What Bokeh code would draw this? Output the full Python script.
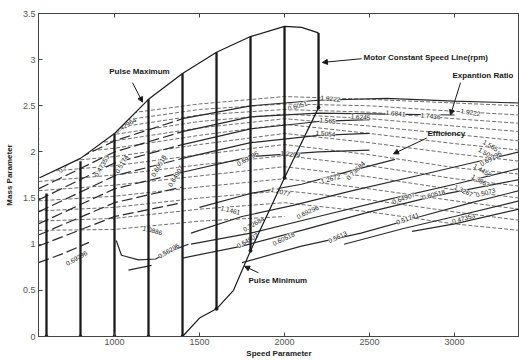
from bokeh.plotting import figure
from bokeh.models import (Range1d, LinearAxis, CustomJSTickFormatter, Arrow, NormalHead,
                          Label, FixedTicker)
from bokeh.embed import file_html
from bokeh.resources import INLINE

# ---------------- data ----------------
# motor constant speed lines
speeds = [600, 800, 1000, 1200, 1400, 1600, 1800, 2000, 2200]
speed_top = [1.55, 1.9, 2.2, 2.57, 2.85, 3.08, 3.25, 3.36, 3.29]
speed_bottom = [0, 0, 0, 0, 0, 0.3, 0.93, 1.72, 2.48]

# pulse envelope
pmax_x = [560, 800, 1000, 1200, 1400, 1600, 1800, 2000, 2100, 2200]
pmax_y = [1.72, 1.93, 2.2, 2.57, 2.85, 3.08, 3.25, 3.36, 3.35, 3.29]
pmin_x = [1400, 1500, 1600, 1700, 1800, 2000, 2200]
pmin_y = [0.0, 0.2, 0.3, 0.5, 0.93, 1.72, 2.48]

# expansion ratio lines (dashed)
er_x = [553, 1000, 1500, 2000, 2500, 3000, 3380]
er_1_9222 = [2.25, 2.4, 2.52, 2.6, 2.57, 2.53, 2.5]
er_1_8222 = [2.2, 2.33, 2.46, 2.52, 2.5, 2.44, 2.4]
er_1_7436 = [2.14, 2.26, 2.4, 2.46, 2.43, 2.36, 2.31]
er_1_6841 = [2.08, 2.19, 2.33, 2.41, 2.36, 2.28, 2.22]
er_1_6245 = [2.02, 2.12, 2.26, 2.36, 2.28, 2.19, 2.12]
er_1_565 = [1.95, 2.04, 2.18, 2.3, 2.2, 2.09, 2.02]
er_1_5054 = [1.87, 1.95, 2.08, 2.2, 2.1, 1.98, 1.9]
er_1_4458 = [1.78, 1.85, 1.97, 2.08, 1.97, 1.83, 1.76]
er_1_3863 = [1.68, 1.75, 1.86, 1.96, 1.85, 1.71, 1.63]
er_1_3267 = [1.58, 1.64, 1.74, 1.84, 1.73, 1.59, 1.5]
er_1_2672 = [1.47, 1.52, 1.62, 1.71, 1.6, 1.47, 1.38]
er_1_2077 = [1.36, 1.4, 1.5, 1.58, 1.48, 1.35, 1.26]
er_1_1461 = [1.25, 1.28, 1.38, 1.45, 1.35, 1.22, 1.15]
er_1_0886_x = [553, 1000, 1500, 2000]
er_1_0886 = [1.15, 1.16, 1.25, 1.3]

# efficiency lines, left part (broken strokes)
effL_x = [553, 1000, 1400]
effL_1 = [0.98, 1.3, 1.45]
effL_2 = [1.1, 1.45, 1.62]
effL_3 = [1.22, 1.6, 1.78]
effL_4 = [1.35, 1.74, 1.93]
effL_5 = [1.48, 1.88, 2.08]
effL_6 = [1.6, 2.0, 2.22]
effL_7 = [1.72, 2.12, 2.36]
effL_low_x = [553, 700, 850]
effL_low_y = [0.8, 0.9, 1.02]
eff_u_x = [1010, 1041, 1141, 1241, 1335, 1435]
eff_u_y = [1.04, 0.88, 0.83, 0.84, 0.93, 1.0]
eff_s_x = [1082, 1218]
eff_s_y = [0.72, 0.77]

# efficiency lines, middle/right part
effM1_x = [1400, 1800, 2200, 2600, 3000, 3380]
effM1_y = [2.36, 2.5, 2.56, 2.58, 2.55, 2.53]
effM2_x = [1400, 1800, 2200, 2600, 3000]
effM2_y = [2.22, 2.38, 2.42, 2.41, 2.4]
effM_x = [1400, 1800, 2200, 2500]
effM_3 = [2.08, 2.25, 2.33, 2.35]
effM_4 = [1.93, 2.1, 2.18, 2.2]
effM_5 = [1.78, 1.95, 2.0, 2.02]

e47_x = [2750, 3000, 3380]
e47_y = [1.14, 1.22, 1.38]
e51_x = [2350, 2700, 3000, 3380]
e51_y = [1.0, 1.17, 1.3, 1.47]
e56_x = [1750, 2100, 2450, 2800, 3100, 3380]
e56_y = [0.8, 0.98, 1.12, 1.3, 1.45, 1.58]
e60_x = [1400, 1750, 2100, 2500, 2900, 3380]
e60_y = [0.85, 0.98, 1.15, 1.35, 1.53, 1.7]
e64_x = [1450, 1800, 2200, 2600, 3000, 3380]
e64_y = [1.0, 1.12, 1.3, 1.48, 1.65, 1.82]
e69_x = [1450, 1750, 2050, 2400, 2800, 3100, 3380]
e69_y = [1.12, 1.3, 1.42, 1.58, 1.75, 1.88, 2.0]
e73_x = [1500, 1800, 2100, 2400, 2650]
e73_y = [1.4, 1.55, 1.65, 1.8, 1.92]

# contour labels (text, x, y, angle in degrees)
lab_text = ["1.9222", "1.565", "1.6245", "1.6841", "1.7436", "1.9222", "1.5054", "1.2209",
            "1.2077", "1.2672", "1.565", "1.5054", "1.4458", "1.3863", "1.3267", "1.1461",
            "1.0886", "0.42964", "0.47353", "0.5174", "0.5624", "0.60518", "0.64907",
            "0.69296", "0.56296", "0.6051", "0.69296", "0.72684", "0.64907", "0.60518",
            "0.69296", "0.5613", "0.51741", "0.47353", "0.64907", "0.60518", "0.5073",
            "0.69296", "0.73684"]
lab_x = [2270, 2253, 2447, 2653, 2859, 3094, 2241, 2035,
         1976, 2270, 3212, 3194, 3165, 3153, 3053, 1682,
         1224, 1065, 924, 1041, 712, 1259, 1359,
         776, 1318, 2076, 1782, 1818, 1782, 1994,
         2135, 2312, 2723, 3053, 2700, 2876, 3182,
         3212, 2417]
lab_y = [2.58, 2.34, 2.38, 2.42, 2.39, 2.43, 2.2, 1.98,
         1.57, 1.71, 2.07, 1.98, 1.8, 1.69, 1.58, 1.37,
         1.15, 2.29, 1.85, 1.87, 1.87, 1.85, 1.74,
         0.85, 0.93, 2.5, 1.93, 1.22, 1.04, 1.06,
         1.35, 1.08, 1.28, 1.28, 1.5, 1.54, 1.56,
         1.93, 1.8]
lab_angle = [-5, -5, -5, -5, -5, -10, -5, -5,
             -15, 15, -30, -30, -30, -30, -25, -15,
             -15, 30, 60, 60, 50, 60, 60,
             30, 30, 15, 30, 30, 30, 25,
             25, 25, 20, 15, 20, 15, 15,
             30, 45]

x_ticks = [1000, 1500, 2000, 2500, 3000]
y_ticks = [0, 0.5, 1, 1.5, 2, 2.5, 3, 3.5]

# ---------------- figure ----------------
FONT = "Liberation Sans"
p = figure(width=519, height=360, output_backend="svg", toolbar_location=None,
           x_range=Range1d(553, 3382), y_range=Range1d(0, 3.5),
           min_border_left=38, min_border_right=0, min_border_top=13, min_border_bottom=24,
           background_fill_color="white", border_fill_color="white")
p.grid.visible = False
p.outline_line_color = "#444444"
p.outline_line_width = 1

fmt = CustomJSTickFormatter(code="return tick.toString();")
for ax in (p.xaxis[0], p.yaxis[0]):
    ax.major_tick_in = 4
    ax.major_tick_out = 0
    ax.minor_tick_line_color = None
    ax.axis_line_color = "#444444"
    ax.major_tick_line_color = "#444444"
    ax.major_label_text_font = FONT
    ax.major_label_text_font_size = "9px"
    ax.major_label_text_color = "#555555"
    ax.axis_label_text_font = FONT
    ax.axis_label_text_font_size = "8px"
    ax.axis_label_text_font_style = "bold"
    ax.axis_label_text_color = "#222222"
    ax.formatter = fmt
p.xaxis[0].ticker = FixedTicker(ticks=x_ticks)
p.yaxis[0].ticker = FixedTicker(ticks=y_ticks)
p.xaxis[0].axis_label = "Speed Parameter"
p.yaxis[0].axis_label = "Mass Parameter"
p.xaxis[0].major_label_standoff = 2
p.xaxis[0].axis_label_standoff = 1
p.yaxis[0].major_label_standoff = 3
p.yaxis[0].axis_label_standoff = 6

top_ax = LinearAxis(ticker=FixedTicker(ticks=x_ticks), major_tick_in=4, major_tick_out=0,
                    minor_tick_line_color=None,
                    formatter=CustomJSTickFormatter(code="return '';"),
                    major_label_standoff=0, axis_line_color="#444444",
                    major_tick_line_color="#444444")
p.add_layout(top_ax, "above")

# expansion ratio lines
er_all = [er_1_9222, er_1_8222, er_1_7436, er_1_6841, er_1_6245, er_1_565, er_1_5054,
          er_1_4458, er_1_3863, er_1_3267, er_1_2672, er_1_2077, er_1_1461]
p.multi_line([er_x] * len(er_all), er_all, line_color="#6e6e6e", line_width=1,
             line_dash="4 2")
p.line(er_1_0886_x, er_1_0886, line_color="#6e6e6e", line_width=1, line_dash="4 2")

# efficiency lines
effL = [effL_1, effL_2, effL_3, effL_4, effL_5, effL_6, effL_7]
p.multi_line([effL_x] * len(effL), effL, line_color="#2a2a2a", line_width=1.2,
             line_dash="11 4")
p.line(effL_low_x, effL_low_y, line_color="#2a2a2a", line_width=1.2, line_dash="11 4")
p.line(eff_u_x, eff_u_y, line_color="#2a2a2a", line_width=1.2)
p.line(eff_s_x, eff_s_y, line_color="#2a2a2a", line_width=1.2)
effM = [effM_3, effM_4, effM_5]
p.multi_line([effM1_x, effM2_x] + [effM_x] * len(effM), [effM1_y, effM2_y] + effM,
             line_color="#2a2a2a", line_width=1.2)
p.multi_line([e47_x, e51_x, e56_x, e60_x, e64_x, e69_x, e73_x],
             [e47_y, e51_y, e56_y, e60_y, e64_y, e69_y, e73_y],
             line_color="#2a2a2a", line_width=1.2)

# contour labels
p.text(x=lab_x, y=lab_y, text=lab_text, angle=lab_angle, angle_units="deg",
       text_font_size="6.5px", text_color="#111111", text_align="center",
       text_baseline="middle", text_font={"value": FONT},
       background_fill_color="white", background_fill_alpha=0.85)

# mask everything above the pulse maximum envelope
p.patch([553, pmax_x[0]] + pmax_x + [pmax_x[-1], 553],
        [pmax_y[0], 3.5] + pmax_y + [3.5, 3.5],
        fill_color="white", line_color=None)
p.patch([553, pmax_x[0], pmax_x[0], 553], [pmax_y[0], pmax_y[0], 3.5, 3.5],
        fill_color="white", line_color=None)

# envelope and speed lines
p.line(pmax_x, pmax_y, line_color="#1a1a1a", line_width=1.2)
p.line(pmin_x, pmin_y, line_color="#1a1a1a", line_width=1.2)
p.segment(x0=speeds, y0=speed_bottom, x1=speeds, y1=speed_top,
          line_color="#1a1a1a", line_width=2.3)
p.scatter(speeds, speed_bottom, size=3, color="#1a1a1a")

# annotations
ann = dict(text_font=FONT, text_font_size="8px", text_font_style="bold",
           text_color="#1a1a1a", text_baseline="middle")
p.add_layout(Label(x=1147, y=2.87, text="Pulse Maximum", text_align="center", **ann))
p.add_layout(Label(x=2465, y=3.02, text="Motor Constant Speed Line(rpm)", **ann))
p.add_layout(Label(x=2988, y=2.83, text="Expantion Ratio", **ann))
p.add_layout(Label(x=2841, y=2.2, text="Efficiency", **ann))
p.add_layout(Label(x=1788, y=0.61, text="Pulse Minimum", **ann))

def arrow(x0, y0, x1, y1):
    p.add_layout(Arrow(x_start=x0, y_start=y0, x_end=x1, y_end=y1, line_width=1,
                       line_color="#1a1a1a",
                       end=NormalHead(size=5, fill_color="#1a1a1a", line_color="#1a1a1a")))

arrow(1106, 2.75, 1165, 2.54)
arrow(2453, 3.01, 2223, 2.97)
arrow(3035, 2.75, 2976, 2.4)
arrow(2836, 2.15, 2641, 1.98)
arrow(1847, 0.69, 1765, 0.76)

open("out.html", "w").write(file_html(p, INLINE))
